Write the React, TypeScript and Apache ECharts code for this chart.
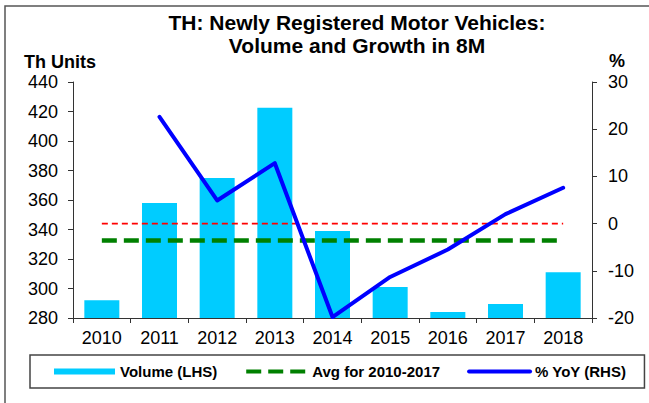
import React, { useEffect, useRef } from "react";
import * as echarts from "echarts";

const categories = ["2010", "2011", "2012", "2013", "2014", "2015", "2016", "2017", "2018"];
const volume = [292, 358, 375, 422.5, 339, 301, 284, 289.5, 311];
const avg2010to2017 = [332.5, 332.5, 332.5, 332.5, 332.5, 332.5, 332.5, 332.5, 332.5];
const zeroLine = [0, 0, 0, 0, 0, 0, 0, 0, 0];
const yoy = [null, 22.6, 4.9, 12.8, -19.8, -11.3, -5.5, 2.0, 7.6];
const leftTicks = { min: 280, max: 440, interval: 20 };
const rightTicks = { min: -20, max: 30, interval: 10 };

const FONT = 'Arial, "Liberation Sans", sans-serif';

export default function App() {
  const ref = useRef<HTMLDivElement>(null);
  useEffect(() => {
    if (!ref.current) return;
    const chart = echarts.init(ref.current, null, { renderer: "svg" });
    const axisLine = { show: true, onZero: false, lineStyle: { color: "#333", width: 1 } };
    chart.setOption({
      animation: false,
      backgroundColor: "#fff",
      textStyle: { fontFamily: FONT },
      grid: { left: 73, right: 57, top: 82, bottom: 85, containLabel: false },
      graphic: [
        {
          type: "rect",
          shape: { x: 5, y: 6, width: 800, height: 600 },
          style: { fill: "none", stroke: "#555", lineWidth: 1.5 },
          silent: true,
        },
        {
          type: "text",
          x: 357,
          y: 11,
          style: {
            text: "TH: Newly Registered Motor Vehicles:\nVolume and Growth in 8M",
            textAlign: "center",
            textVerticalAlign: "top",
            font: `bold 21px ${FONT}`,
            lineHeight: 23,
            fill: "#000",
          },
        },
        {
          type: "text",
          x: 24,
          y: 62,
          style: {
            text: "Th Units",
            textAlign: "left",
            textVerticalAlign: "middle",
            font: `bold 18px ${FONT}`,
            fill: "#000",
          },
        },
        {
          type: "text",
          x: 617,
          y: 61,
          style: {
            text: "%",
            textAlign: "center",
            textVerticalAlign: "middle",
            font: `bold 18px ${FONT}`,
            fill: "#000",
          },
        },
      ],
      legend: {
        left: 30,
        top: 355,
        orient: "horizontal",
        padding: [9, 18, 9, 24],
        borderColor: "#444",
        borderWidth: 1.5,
        itemWidth: 61,
        itemHeight: 6,
        itemGap: 27,
        textStyle: { fontSize: 15, fontWeight: "bold", color: "#000", fontFamily: FONT },
        lineStyle: { width: 4 },
        data: [
          { name: "Volume (LHS)", icon: "rect" },
          { name: "Avg for 2010-2017", itemStyle: { opacity: 0 } },
          { name: "% YoY (RHS)", itemStyle: { opacity: 0 } },
        ],
      },
      xAxis: {
        type: "category",
        data: categories,
        boundaryGap: true,
        axisLine,
        axisTick: { show: true, length: 5, inside: false, lineStyle: { color: "#333" } },
        axisLabel: { fontSize: 18, color: "#000", margin: 11, fontFamily: FONT },
        splitLine: { show: false },
      },
      yAxis: [
        {
          type: "value",
          ...leftTicks,
          axisLine,
          axisTick: { show: true, length: 5, inside: false, lineStyle: { color: "#333" } },
          axisLabel: { fontSize: 18, color: "#000", margin: 15, fontFamily: FONT },
          splitLine: { show: false },
        },
        {
          type: "value",
          position: "right",
          ...rightTicks,
          axisLine,
          axisTick: { show: true, length: 5, inside: false, lineStyle: { color: "#333" } },
          axisLabel: { fontSize: 18, color: "#000", margin: 16, fontFamily: FONT },
          splitLine: { show: false },
        },
      ],
      series: [
        {
          name: "Volume (LHS)",
          type: "bar",
          yAxisIndex: 0,
          data: volume,
          barWidth: 35,
          itemStyle: { color: "#00CCFF" },
          z: 2,
        },
        {
          name: "Avg for 2010-2017",
          type: "line",
          yAxisIndex: 0,
          data: avg2010to2017,
          symbol: "none",
          itemStyle: { color: "#008000" },
          lineStyle: { color: "#008000", width: 4.5, type: [15, 7] },
          z: 3,
        },
        {
          name: "zero",
          type: "line",
          yAxisIndex: 1,
          data: zeroLine,
          symbol: "none",
          itemStyle: { color: "#FF0000" },
          lineStyle: { color: "#FF0000", width: 1.8, type: [6, 4] },
          z: 3,
        },
        {
          name: "% YoY (RHS)",
          type: "line",
          yAxisIndex: 1,
          data: yoy,
          symbol: "none",
          connectNulls: false,
          itemStyle: { color: "#0000FF" },
          lineStyle: { color: "#0000FF", width: 4, cap: "round", join: "round" },
          z: 4,
        },
      ],
    });
    return () => chart.dispose();
  }, []);
  return (
    <div
      ref={ref}
      style={{ position: "absolute", left: 0, top: 0, width: 649, height: 403, background: "#fff" }}
    />
  );
}
